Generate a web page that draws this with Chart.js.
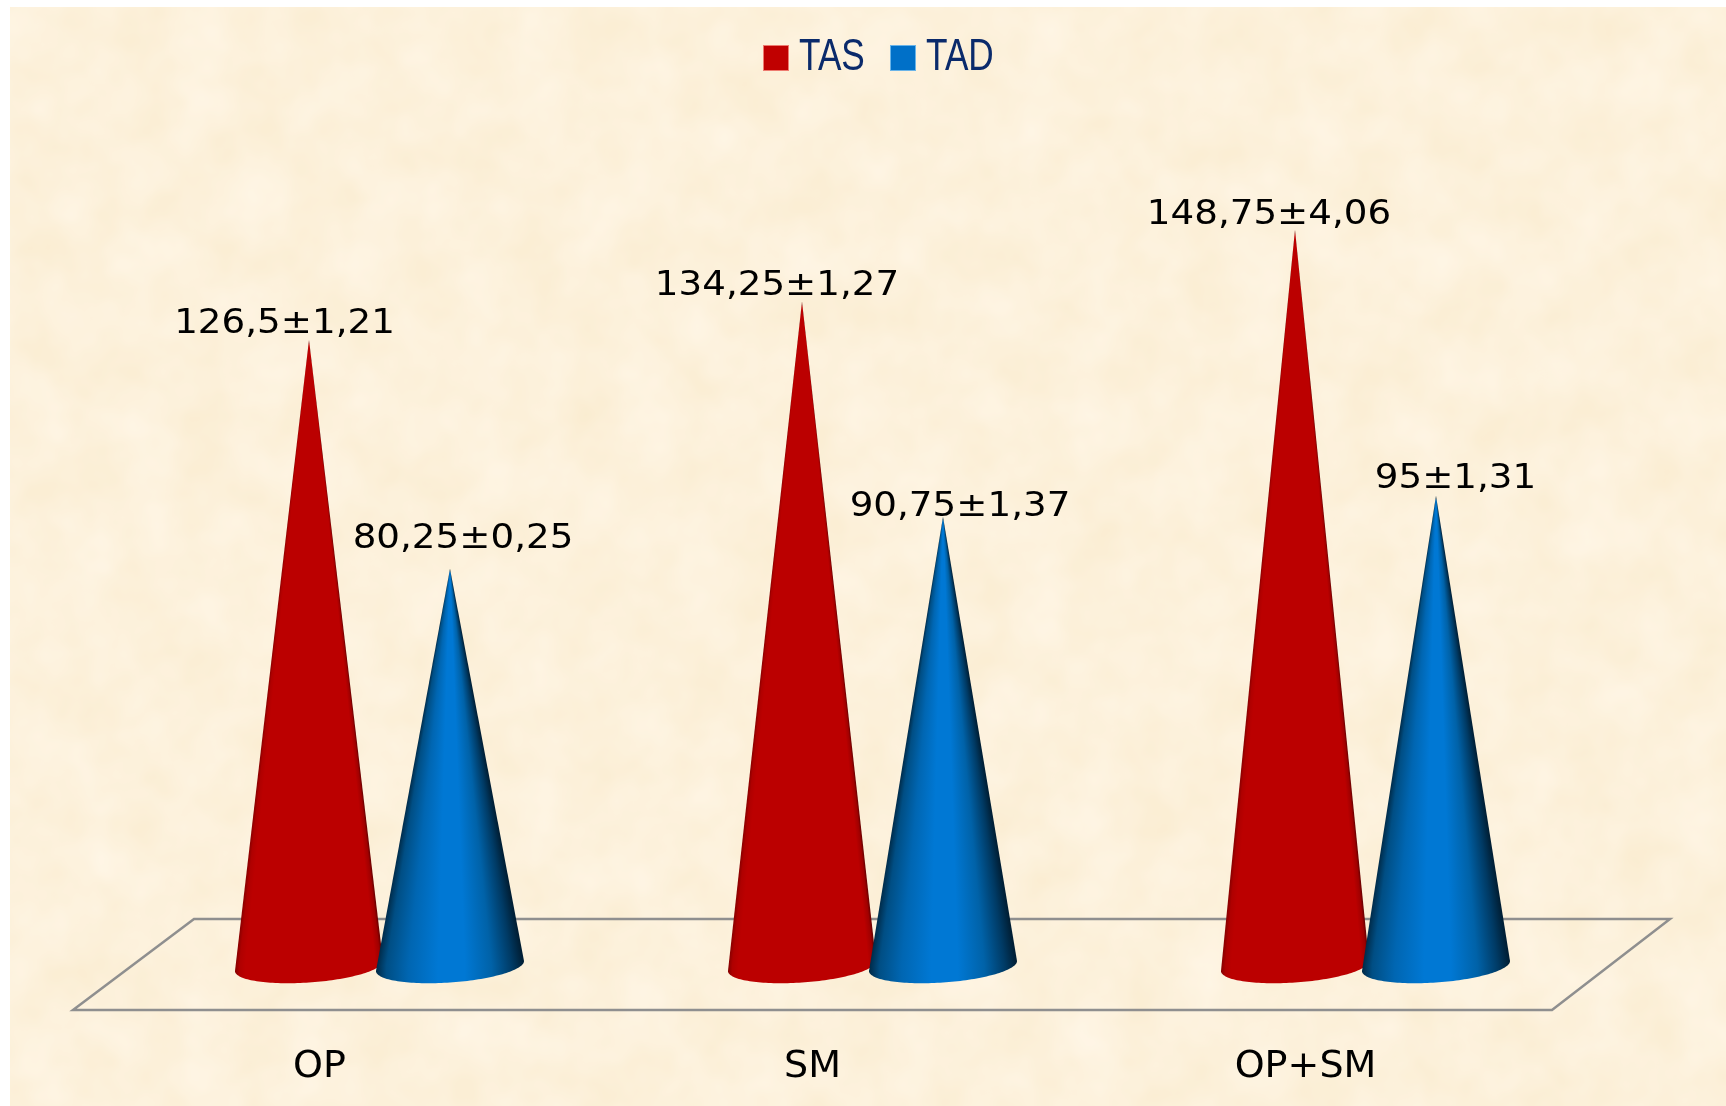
<!DOCTYPE html>
<html>
<head>
<meta charset="utf-8">
<title>TAS / TAD</title>
<script src="https://cdn.jsdelivr.net/npm/chart.js@4/dist/chart.umd.min.js"></script>
<style>
  html, body { margin: 0; padding: 0; background: #fff; overflow: hidden; }
  #paper { position: absolute; left: 10px; top: 7px; }
  #chart { position: absolute; left: 0; top: 0; }
</style>
</head>
<body>
<!-- parchment background -->
<svg id="paper" width="1716" height="1099">
  <filter id="mottle" color-interpolation-filters="sRGB" x="0" y="0" width="100%" height="100%">
    <feTurbulence type="fractalNoise" baseFrequency="0.018" numOctaves="3" seed="4"/>
    <feColorMatrix type="matrix" values="0.02 0 0 0 0.98  0.04 0 0 0 0.925  0.09 0 0 0 0.815  0 0 0 0 1"/>
  </filter>
  <rect width="1716" height="1099" filter="url(#mottle)"/>
</svg>
<canvas id="chart" width="1726" height="1106"></canvas>

<script>
const categories = ['OP', 'SM', 'OP+SM'];
const tasValues = [126.5, 134.25, 148.75];
const tadValues = [80.25, 90.75, 95];
const tasLabels = ['126,5±1,21', '134,25±1,27', '148,75±4,06'];
const tadLabels = ['80,25±0,25', '90,75±1,37', '95±1,31'];

// label nudges from the cone tip, [dx, dy above]
const tasNudge = [[-24.5, 7], [-25, 6], [-26, 6]];
const tadNudge = [[13, 21], [17, 1], [19.5, 8]];

const FONT = '"DejaVu Sans", sans-serif';
const DEPTH_X = 60;

// colour across the cone, 0 = left edge, 1 = right edge
const redStops = [[0, 'rgb(130,0,0)'], [0.03, 'rgb(175,0,0)'], [0.07, 'rgb(187,0,0)'], [0.95, 'rgb(187,0,0)'], [0.985, 'rgb(160,0,0)'], [1, 'rgb(110,0,0)']];
const blueStops = [[0, 'rgb(0,40,68)'], [0.07, 'rgb(0,78,132)'], [0.22, 'rgb(0,102,178)'], [0.42, 'rgb(0,120,212)'], [0.6, 'rgb(0,120,212)'], [0.78, 'rgb(0,98,168)'], [0.92, 'rgb(0,58,100)'], [1, 'rgb(0,30,52)']];

function drawCone(ctx, bar, stops) {
  const cx = bar.x + DEPTH_X;
  const cy = bar.base;
  const tipY = bar.y;
  const R = bar.width / 2 * 1.05;
  const skew = 5, b = 16.5;
  const rim = t => [cx + R * Math.cos(t), cy - skew * Math.cos(t) + b * Math.sin(t)];

  ctx.save();
  ctx.beginPath();
  ctx.moveTo(cx, tipY);
  for (let i = 0; i <= 80; i++) {
    const p = rim(Math.PI * i / 80);
    ctx.lineTo(p[0], p[1]);
  }
  ctx.closePath();
  ctx.clip();

  // one gradient per pixel row, so the shading narrows towards the tip
  const bottom = Math.ceil(cy + b + 8);
  for (let y = Math.floor(tipY); y < bottom; y++) {
    const half = Math.max(R * Math.min(1, (y + 1 - tipY) / (cy - tipY)), 0.5);
    const g = ctx.createLinearGradient(cx - half, 0, cx + half, 0);
    stops.forEach(s => g.addColorStop(s[0], s[1]));
    ctx.fillStyle = g;
    ctx.fillRect(cx - R - 2, y, 2 * R + 4, 1);
  }
  ctx.restore();
}

// legend text is a condensed face, squeezed from Liberation Sans
function drawLegend(chart) {
  const ctx = chart.ctx;
  const colors = [['#c00000', '#ee7b70'], ['#0070c8', '#6ab4e8']];
  const starts = [763, 890];
  chart.data.datasets.forEach((ds, i) => {
    const x = starts[i];
    ctx.save();
    ctx.fillStyle = colors[i][1];
    ctx.fillRect(x, 45, 26, 26);
    ctx.fillStyle = colors[i][0];
    ctx.fillRect(x + 1, 46, 24, 24);
    ctx.translate(x + 36, 70);
    ctx.scale(0.8, 1);
    ctx.font = '44px "Liberation Sans", sans-serif';
    ctx.fillStyle = '#0a2a6b';
    ctx.textAlign = 'left';
    ctx.fillText(ds.label, 0, 0);
    ctx.restore();
  });
}

const conePlugin = {
  id: 'cones',
  beforeDatasetsDraw(chart) {
    // floor outline
    const { ctx, chartArea } = chart;
    const front = chartArea.bottom + 44, back = chartArea.bottom - 47;
    ctx.save();
    ctx.strokeStyle = '#8f8f8f';
    ctx.lineWidth = 2.5;
    ctx.beginPath();
    ctx.moveTo(chartArea.left, front);
    ctx.lineTo(chartArea.left + 121, back);
    ctx.lineTo(chartArea.right + 118, back);
    ctx.lineTo(chartArea.right, front);
    ctx.closePath();
    ctx.stroke();
    ctx.restore();
  },
  afterDatasetsDraw(chart) {
    const ctx = chart.ctx;
    const looks = [
      { stops: redStops, labels: tasLabels, nudge: tasNudge },
      { stops: blueStops, labels: tadLabels, nudge: tadNudge }
    ];
    looks.forEach((look, d) => {
      chart.getDatasetMeta(d).data.forEach(bar => drawCone(ctx, bar, look.stops));
    });
    looks.forEach((look, d) => {
      chart.getDatasetMeta(d).data.forEach((bar, i) => {
        ctx.save();
        ctx.translate(bar.x + DEPTH_X + look.nudge[i][0], bar.y - look.nudge[i][1]);
        ctx.scale(1.095, 1);
        ctx.font = '34px ' + FONT;
        ctx.fillStyle = '#000';
        ctx.textAlign = 'center';
        ctx.textBaseline = 'alphabetic';
        ctx.fillText(look.labels[i], 0, 0);
        ctx.restore();
      });
    });
    drawLegend(chart);
  }
};

new Chart(document.getElementById('chart'), {
  type: 'bar',
  data: {
    labels: categories,
    datasets: [
      { label: 'TAS', data: tasValues, backgroundColor: 'transparent' },
      { label: 'TAD', data: tadValues, backgroundColor: 'transparent' }
    ]
  },
  options: {
    responsive: false,
    animation: false,
    events: [],
    layout: { padding: { left: 73, right: 174, top: 174, bottom: 0 } },
    datasets: { bar: { barPercentage: 1, categoryPercentage: 0.572 } },
    scales: {
      x: {
        grid: { display: false, drawTicks: false },
        border: { display: false },
        afterFit(scale) { scale.height = 140; },
        ticks: {
          padding: 78,
          maxRotation: 0,
          autoSkip: false,
          color: '#000',
          font: { family: FONT, size: 38 }
        }
      },
      y: { display: false, min: 0, max: 160 }
    },
    plugins: {
      tooltip: { enabled: false },
      legend: { display: false }
    }
  },
  plugins: [conePlugin]
});
</script>
</body>
</html>
